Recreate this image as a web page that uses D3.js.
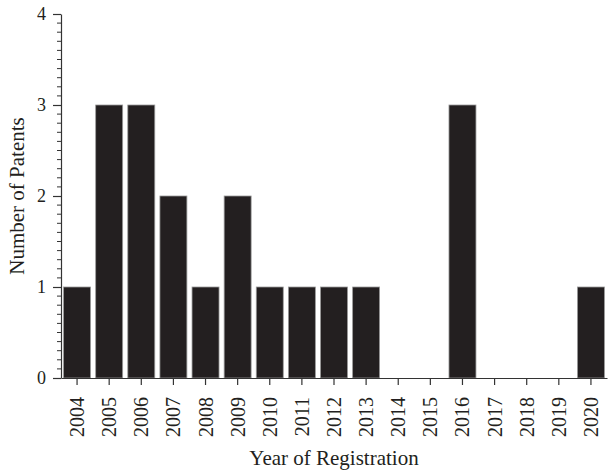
<!DOCTYPE html>
<html>
<head>
<meta charset="utf-8">
<script src="https://cdn.jsdelivr.net/npm/d3@7"></script>
<style>
  body { margin: 0; background: #fff; }
  text { font-family: "Liberation Serif", "DejaVu Serif", serif; fill: #231f20; }
</style>
</head>
<body>
<div id="chart"></div>
<script>
// Data
var years = ["2004", "2005", "2006", "2007", "2008", "2009", "2010", "2011", "2012",
             "2013", "2014", "2015", "2016", "2017", "2018", "2019", "2020"];
var patents = [1, 3, 3, 2, 1, 2, 1, 1, 1, 1, 0, 0, 3, 0, 0, 0, 1];
var yTicks = [0, 1, 2, 3, 4];

var svgWidth = 609;
var svgHeight = 470;

var margin = { top: 14, right: 2, bottom: 92, left: 61 };
var width = svgWidth - margin.left - margin.right;
var height = svgHeight - margin.top - margin.bottom;

var svg = d3.select("#chart")
  .append("svg")
  .attr("width", svgWidth)
  .attr("height", svgHeight);

var chartGroup = svg.append("g")
  .attr("transform", `translate(${margin.left}, ${margin.top})`);

var xScale = d3.scaleBand()
  .domain(years)
  .range([0, width])
  .paddingInner(0.16)
  .paddingOuter(0.08);

var yScale = d3.scaleLinear()
  .domain([0, 4])
  .range([height, 0]);

// Bars
chartGroup.append("g")
  .selectAll("rect")
  .data(years)
  .enter()
  .append("rect")
  .attr("x", d => xScale(d))
  .attr("y", (d, i) => yScale(patents[i]))
  .attr("width", xScale.bandwidth())
  .attr("height", (d, i) => height - yScale(patents[i]))
  .attr("fill", "#231f20")
  .attr("stroke", "#9a9a9a")
  .attr("stroke-width", 0.8);

// Minor ticks on y axis
var minorTicks = d3.range(0, 40).map(d => d / 10).filter(d => d % 1 !== 0);
chartGroup.append("g")
  .selectAll("line")
  .data(minorTicks)
  .enter()
  .append("line")
  .attr("x1", -4)
  .attr("x2", 0)
  .attr("y1", d => yScale(d))
  .attr("y2", d => yScale(d))
  .attr("stroke", "#333")
  .attr("stroke-width", 1);

// Y axis
var leftAxis = d3.axisLeft(yScale)
  .tickValues(yTicks)
  .tickFormat(d3.format("d"))
  .tickSize(8)
  .tickSizeOuter(0)
  .tickPadding(7);

var yAxisG = chartGroup.append("g").call(leftAxis);
yAxisG.selectAll("text").style("font-size", "18px");

// X axis
var bottomAxis = d3.axisBottom(xScale)
  .tickSize(7)
  .tickSizeOuter(0);

var xAxisG = chartGroup.append("g")
  .attr("transform", `translate(0, ${height})`)
  .call(bottomAxis);

xAxisG.selectAll("text")
  .style("font-size", "20px")
  .attr("transform", "rotate(-90)")
  .attr("text-anchor", "end")
  .attr("x", -19)
  .attr("y", 0)
  .attr("dy", "0.35em");

chartGroup.selectAll(".domain").attr("stroke", "#333").attr("stroke-width", 1.2);
chartGroup.selectAll(".tick line").attr("stroke", "#333").attr("stroke-width", 1.2);

// Axis titles
chartGroup.append("text")
  .attr("transform", "rotate(-90)")
  .attr("x", -height / 2)
  .attr("y", -margin.left + 24)
  .attr("text-anchor", "middle")
  .style("font-size", "21px")
  .text("Number of Patents");

chartGroup.append("text")
  .attr("x", width / 2)
  .attr("y", height + 87)
  .attr("text-anchor", "middle")
  .style("font-size", "21px")
  .text("Year of Registration");
</script>
</body>
</html>
